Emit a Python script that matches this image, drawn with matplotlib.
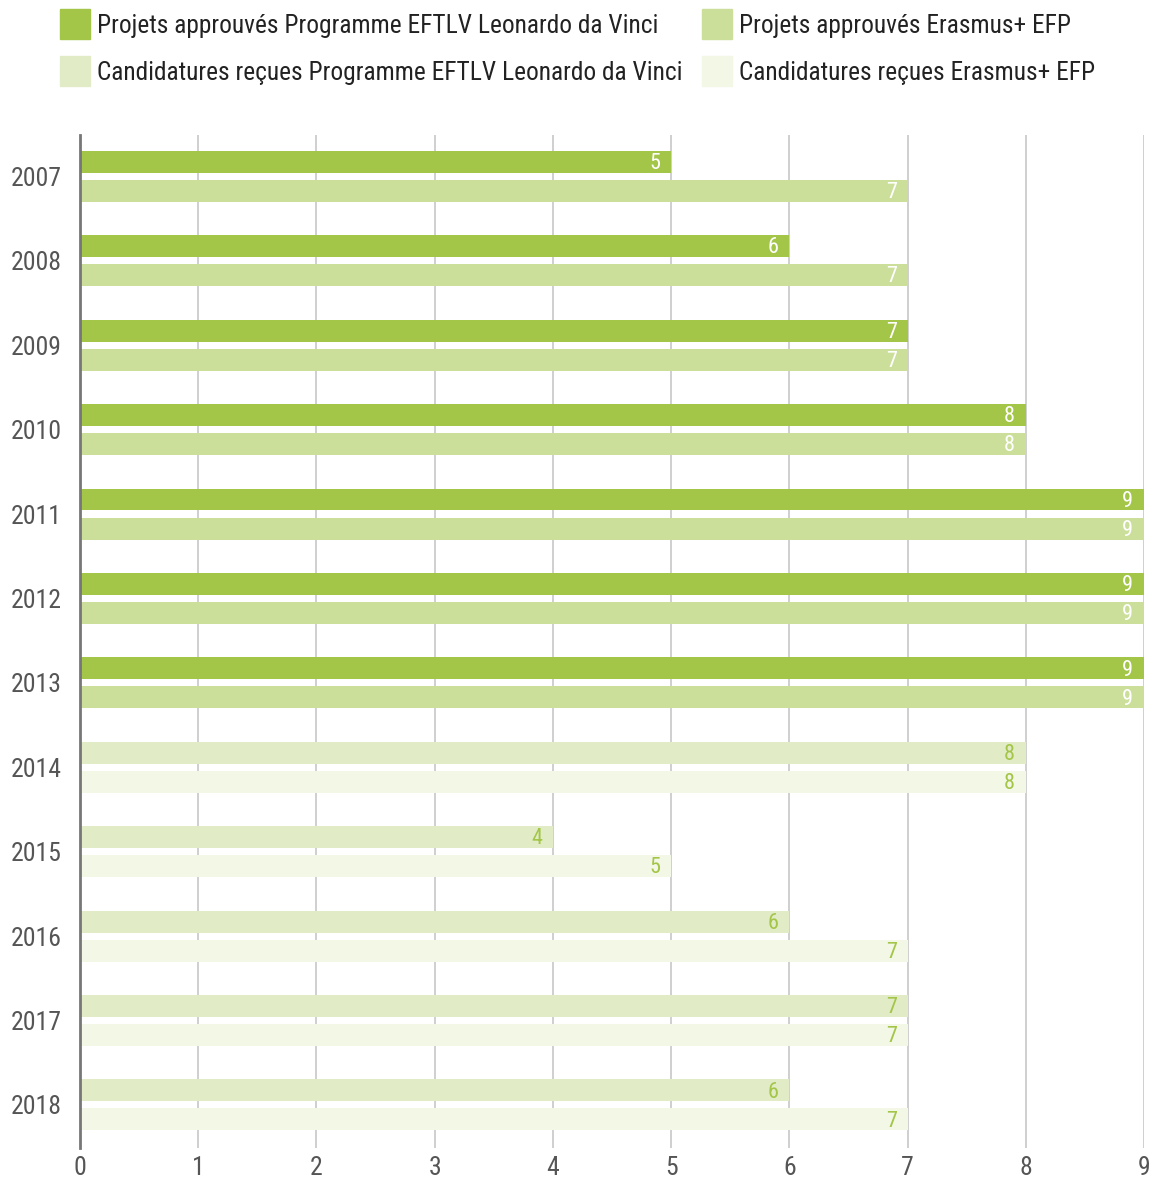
import matplotlib
matplotlib.use("Agg")
import matplotlib.pyplot as plt
from matplotlib import font_manager
from matplotlib.patches import Rectangle
import numpy as np

names = {f.name for f in font_manager.fontManager.ttflist}
for cand in ["Liberation Sans Narrow", "DejaVu Sans Condensed", "Roboto Condensed", "Open Sans Condensed", "Roboto"]:
    if cand in names:
        FONT = cand
        break
else:
    FONT = "DejaVu Sans"
plt.rcParams['font.family'] = [FONT, 'DejaVu Sans']

years = ["2007", "2008", "2009", "2010", "2011", "2012", "2013",
         "2014", "2015", "2016", "2017", "2018"]
labels = ["Projets approuvés Programme EFTLV Leonardo da Vinci",
          "Projets approuvés Erasmus+ EFP",
          "Candidatures reçues Programme EFTLV Leonardo da Vinci",
          "Candidatures reçues Erasmus+ EFP"]
colors = ["#a3c548", "#cbdf9b", "#e1ecc7", "#f2f7e6"]
label_colors = ["white", "white", "#a3c548", "#a3c548"]

# values per series (None = no bar)
approved_ldv = [5, 6, 7, 8, 9, 9, 9, None, None, None, None, None]
approved_erasmus = [7, 7, 7, 8, 9, 9, 9, None, None, None, None, None]
cand_ldv = [None, None, None, None, None, None, None, 8, 4, 6, 7, 6]
cand_erasmus = [None, None, None, None, None, None, None, 8, 5, 7, 7, 7]
series = [approved_ldv, approved_erasmus, cand_ldv, cand_erasmus]
offsets = [-0.172, 0.172, -0.172, 0.172]
xticks = list(range(10))

W, H = 1153, 1178
fig = plt.figure(figsize=(W / 100, H / 100), dpi=100)
ax = fig.add_axes([80 / W, 1 - 1148 / H, (1144 - 80) / W, (1148 - 135) / H])

y = np.arange(len(years))
bh = 0.26
for vals, off, col, lc in zip(series, offsets, colors, label_colors):
    idx = [i for i, v in enumerate(vals) if v is not None]
    v = [vals[i] for i in idx]
    ax.barh(y[idx] + off, v, height=bh, color=col, zorder=2)
    for i, val in zip(idx, v):
        ax.text(val - 0.09, y[i] + off + 0.02, str(val), ha='right', va='center',
                color=lc, fontsize=16, zorder=3)

ax.set_xlim(0, 9)
ax.set_ylim(len(years) - 0.49, -0.49)
ax.set_yticks(y)
ax.set_yticklabels(years)
ax.set_xticks(xticks)
ax.set_xticklabels([str(t) for t in xticks])
ax.tick_params(length=0, labelsize=18.5, colors="#555555")
ax.tick_params(axis='y', pad=13)
ax.tick_params(axis='x', pad=6)
for s in ['top', 'right', 'bottom']:
    ax.spines[s].set_visible(False)
ax.spines['left'].set_color('#777777')
ax.spines['left'].set_linewidth(2)
ax.set_axisbelow(True)
ax.grid(axis='x', color='#cccccc', linewidth=1.3, zorder=0)
ax.grid(axis='y', visible=False)

# legend
pos = [(60, 9), (702, 9), (60, 56), (702, 56)]
for (px, py), lab, col in zip(pos, labels, colors):
    fig.patches.append(Rectangle((px / W, 1 - (py + 30) / H), 30 / W, 30 / H,
                                 transform=fig.transFigure, color=col, figure=fig))
    fig.text((px + 37) / W, 1 - (py + 17) / H, lab, ha='left', va='center',
             fontsize=18.3, color='#222222')

fig.savefig("out.png", dpi=100)
